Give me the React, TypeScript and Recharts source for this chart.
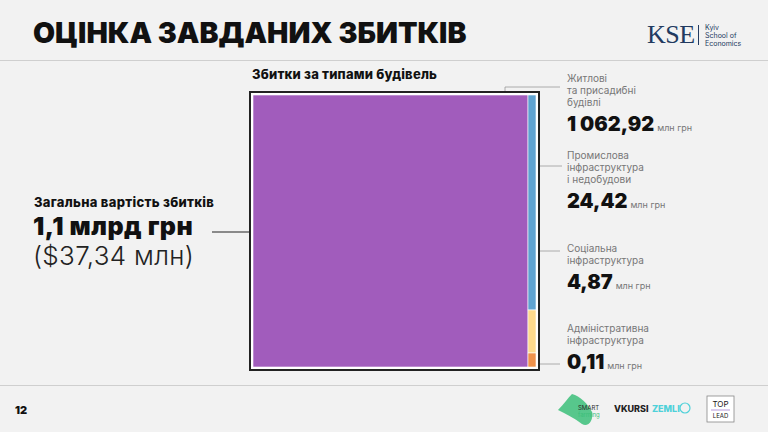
import { Treemap } from "recharts";

const categories = [
    "Житлові та присадибні будівлі",
    "Промислова інфраструктура і недобудови",
    "Соціальна інфраструктура",
    "Адміністративна інфраструктура"
];
const labelLines = [
    ["Житлові", "та присадибні", "будівлі"],
    ["Промислова", "інфраструктура", "і недобудови"],
    ["Соціальна", "інфраструктура"],
    ["Адміністративна", "інфраструктура"]
];
const values = [1062.92, 24.42, 4.87, 0.11];
const colors = ["#a15cbc", "#5fa3d1", "#fdd98c", "#f0924b"];
const unit = "млн грн";

const FONT = "Inter, 'Open Sans', sans-serif";

// "1 062,92" style
const fmt = (v: number): string => {
    const [i, d] = v.toFixed(2).split(".");
    return i.replace(/\B(?=(\d{3})+(?!\d))/g, " ") + "," + d;
};

const data = categories.map((name, i) => ({ name, value: values[i], color: colors[i] }));

const Cell = (props: any) => {
    const { x, y, width, height, index, depth } = props;
    if (depth === 0 || width <= 0 || height <= 0) return null;
    return <rect x={x} y={y} width={width} height={height} fill={props.color ?? colors[index]} stroke="#fff" strokeWidth={0.6} />;
};

// label blocks on the right
const labelTop = [72, 149, 242, 322];

export default function App() {
    return (
        <div style={{ position: "absolute", left: 0, top: 0, width: 768, height: 432, background: "#f2f2f2", fontFamily: FONT, overflow: "hidden" }}>
            <div style={{ position: "absolute", left: 33, top: 15, fontSize: 28.5, fontWeight: 900, color: "#111" }}>
                ОЦІНКА ЗАВДАНИХ ЗБИТКІВ
            </div>
            {/* KSE logo */}
            <div style={{ position: "absolute", left: 647, top: 20, fontFamily: "'Liberation Serif', serif", fontSize: 26, color: "#223a60", letterSpacing: -0.5 }}>KSE</div>
            <div style={{ position: "absolute", left: 698, top: 25, width: 1, height: 20, background: "#223a60" }} />
            <div style={{ position: "absolute", left: 705, top: 24, fontSize: 7, lineHeight: "8px", color: "#223a60" }}>
                Kyiv<br />School of<br />Economics
            </div>
            <div style={{ position: "absolute", left: 0, top: 60, width: 768, height: 1, background: "#cfcfcf" }} />

            <div style={{ position: "absolute", left: 252, top: 66, fontSize: 13, fontWeight: 800, color: "#111", letterSpacing: 0.2 }}>Збитки за типами будівель</div>

            {/* left summary */}
            <div style={{ position: "absolute", left: 34, top: 194, fontSize: 13, fontWeight: 800, color: "#111", letterSpacing: 0.3 }}>Загальна вартість збитків</div>
            <div style={{ position: "absolute", left: 33, top: 211, fontSize: 25, fontWeight: 900, color: "#111", letterSpacing: 0.5 }}>1,1 млрд грн</div>
            <div style={{ position: "absolute", left: 33, top: 240, fontSize: 26, fontWeight: 300, color: "#222", letterSpacing: 0.3 }}>($37,34 млн)</div>

            {/* leader lines */}
            <svg width={768} height={432} style={{ position: "absolute", left: 0, top: 0 }}>
                <line x1={212} y1={232} x2={249} y2={232} stroke="#222" strokeWidth={1.2} />
                <polyline points="505,100 505,87 560,87" fill="none" stroke="#999" strokeWidth={0.8} />
                <line x1={533} y1={166} x2={562} y2={166} stroke="#999" strokeWidth={0.8} />
                <line x1={533} y1={251} x2={560} y2={251} stroke="#999" strokeWidth={0.8} />
                <line x1={530} y1={364} x2={560} y2={364} stroke="#999" strokeWidth={0.8} />
            </svg>

            {/* treemap frame */}
            <div style={{ position: "absolute", left: 249, top: 91, width: 287, height: 276, border: "2px solid #222", background: "#fff", boxSizing: "content-box" }}>
                <div style={{ position: "absolute", left: 2, top: 2 }}>
                    <Treemap
                        width={283}
                        height={272}
                        data={data}
                        dataKey="value"
                        isAnimationActive={false}
                        content={<Cell />}
                    />
                </div>
            </div>

            {/* right labels */}
            {labelLines.map((lines, i) => (
                <div key={i} style={{ position: "absolute", left: 567, top: labelTop[i] }}>
                    <div style={{ fontSize: 10, lineHeight: "12px", color: "#777" }}>
                        {lines.map((l, j) => <div key={j}>{l}</div>)}
                    </div>
                    <div style={{ marginTop: 4, whiteSpace: "nowrap" }}>
                        <span style={{ fontSize: 20, fontWeight: 900, color: "#111" }}>{fmt(values[i])}</span>
                        <span style={{ fontSize: 9, color: "#777", marginLeft: 3 }}>{unit}</span>
                    </div>
                </div>
            ))}

            <div style={{ position: "absolute", left: 0, top: 385, width: 768, height: 1, background: "#cfcfcf" }} />
            <div style={{ position: "absolute", left: 15, top: 403, fontSize: 11, fontWeight: 900, color: "#111" }}>12</div>

            {/* footer logos */}
            <svg width={768} height={432} style={{ position: "absolute", left: 0, top: 0 }}>
                <path d="M572,394 C580,396 588,404 592,412 C594,420 588,428 582,424 C574,418 566,414 558,410 C564,404 568,398 572,394 Z" fill="#3cbf7a" opacity={0.85} />
                <text x={578} y={410} fontSize={6} fill="#2a2a2a" fontFamily={FONT}>SMART</text>
                <text x={578} y={417} fontSize={6} fill="#3cbf7a" fontFamily={FONT}>farming</text>
                <text x={614} y={412} fontSize={9} fontWeight={800} fill="#222" fontFamily={FONT}>VKURSI</text>
                <text x={652} y={412} fontSize={9} fontWeight={800} fill="#4fd1d9" fontFamily={FONT}>ZEMLI</text>
                <circle cx={685} cy={408} r={5} fill="none" stroke="#4fd1d9" strokeWidth={1.2} />
                <rect x={707} y={396} width={27} height={26} fill="#fff" stroke="#888" strokeWidth={0.8} />
                <text x={720.5} y={407} fontSize={8} textAnchor="middle" fill="#222" fontFamily={FONT}>TOP</text>
                <line x1={711} y1={410} x2={730} y2={410} stroke="#a17bd1" strokeWidth={0.8} />
                <text x={720.5} y={418} fontSize={6} textAnchor="middle" fill="#222" fontFamily={FONT}>LEAD</text>
            </svg>
        </div>
    );
}
